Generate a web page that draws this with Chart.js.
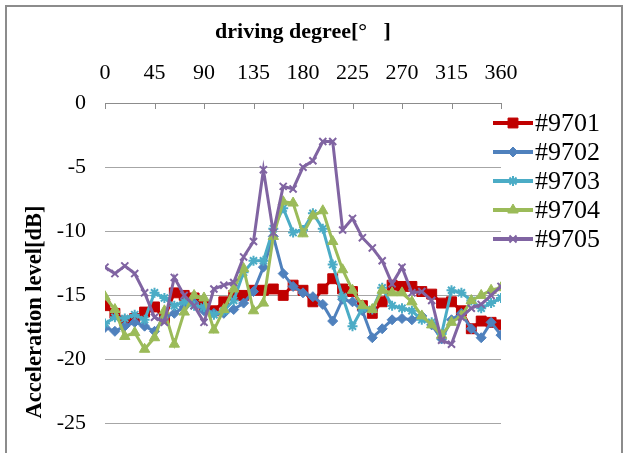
<!DOCTYPE html>
<html>
<head>
<meta charset="utf-8">
<script src="https://cdn.jsdelivr.net/npm/chart.js@4"></script>
<style>
    html, body { margin: 0; padding: 0; background: #fff; overflow: hidden; }
    #frame { position: absolute; left: 5px; top: 5px; width: 614px; height: 600px; border: 2px solid #8c8c8c; }
    #wrap { position: absolute; left: 0; top: 0; width: 625px; height: 520px; }
</style>
</head>
<body>
<div id="frame"></div>
<div id="wrap"><canvas id="accelChart"></canvas></div>
<script>
// driving degree, one sample every 9 degrees
const angles = [0, 9, 18, 27, 36, 45, 54, 63, 72, 81, 90, 99, 108, 117, 126, 135, 144, 153, 162, 171,
    180, 189, 198, 207, 216, 225, 234, 243, 252, 261, 270, 279, 288, 297, 306, 315, 324, 333, 342, 351, 360];

const degreeTicks = [0, 45, 90, 135, 180, 225, 270, 315, 360];
const levelTicks = [0, -5, -10, -15, -20, -25, -30];

const seriesNames = ['#9701', '#9702', '#9703', '#9704', '#9705'];

const level9701 = [-15.8, -16.4, -17.0, -16.8, -16.3, -15.9, -16.8, -14.8, -15.0, -15.2, -15.8, -16.2, -15.5, -15.0,
    -15.0, -14.6, -14.6, -14.5, -15.0, -14.2, -14.6, -15.5, -14.5, -13.7, -14.5, -14.7, -15.8, -16.4, -15.5, -14.2,
    -14.3, -14.3, -14.7, -14.9, -15.6, -15.5, -16.2, -17.6, -17.0, -17.1, -17.3];
const level9702 = [-17.5, -17.8, -17.4, -17.1, -17.4, -17.8, -16.7, -16.4, -15.9, -15.6, -16.2, -16.4, -16.4, -16.1,
    -15.6, -14.7, -12.8, -10.4, -13.3, -14.3, -14.8, -15.1, -15.7, -17.0, -15.3, -15.5, -16.2, -18.3, -17.6, -16.9,
    -16.8, -16.9, -16.6, -17.3, -18.4, -16.9, -16.4, -17.6, -18.3, -17.1, -18.1];
const level9703 = [-17.2, -16.7, -16.8, -16.5, -16.9, -14.8, -15.2, -15.8, -15.5, -15.8, -15.9, -16.5, -16.2, -15.4,
    -13.2, -12.3, -12.3, -9.8, -8.2, -10.1, -9.9, -8.6, -9.8, -12.6, -15.1, -17.4, -16.0, -16.1, -14.4, -15.8,
    -16.0, -16.2, -16.9, -17.1, -18.0, -14.6, -14.8, -15.4, -16.0, -15.6, -15.2];
const level9704 = [-15.1, -16.1, -18.2, -17.9, -19.2, -18.3, -16.2, -18.8, -16.3, -15.0, -15.2, -17.7, -16.1, -14.5,
    -12.9, -16.2, -15.6, -10.4, -7.7, -7.8, -10.2, -8.8, -8.4, -10.8, -13.0, -14.6, -15.8, -16.1, -14.6, -14.8,
    -14.8, -15.5, -16.6, -17.3, -18.1, -17.1, -16.6, -15.4, -15.0, -14.6, -14.4];
const level9705 = [-12.8, -13.3, -12.7, -13.3, -14.8, -16.7, -17.1, -13.6, -15.0, -15.8, -17.1, -14.5, -14.2, -14.0,
    -12.0, -10.8, -5.2, -10.1, -6.5, -6.7, -5.0, -4.5, -3.0, -3.0, -9.9, -9.0, -10.5, -11.3, -12.3, -14.1,
    -12.8, -14.8, -14.7, -15.4, -18.5, -18.8, -16.7, -16.0, -15.7, -15.0, -14.3];

const SERIF = '"Liberation Serif", "Times New Roman", serif';

const styles = [
    { color: '#C00000', point: 'rect', radius: 7, pw: 1 },
    { color: '#4F81BD', point: 'rectRot', radius: 5, pw: 1 },
    { color: '#4BACC6', point: 'star', radius: 5, pw: 2 },
    { color: '#9BBB59', point: 'triangle', radius: 6, pw: 1 },
    { color: '#8064A2', point: 'crossRot', radius: 5, pw: 2 }
];

function makeDataset(idx, values) {
    const st = styles[idx];
    return {
        label: seriesNames[idx],
        data: angles.map((a, i) => ({ x: a, y: values[i] })),
        borderColor: st.color,
        backgroundColor: st.color,
        borderWidth: 3,
        pointStyle: st.point,
        pointRadius: st.radius,
        pointBorderWidth: st.pw,
        pointBackgroundColor: st.color,
        pointBorderColor: st.color,
        tension: 0,
        order: 5 - idx
    };
}

// short tick marks hanging down from the top axis, plus the vertical axis title
const axisExtras = {
    id: 'axisExtras',
    afterDatasetsDraw(chart) {
        const { ctx, chartArea, scales } = chart;
        ctx.save();
        ctx.strokeStyle = '#8c8c8c';
        ctx.lineWidth = 1;
        degreeTicks.forEach(v => {
            const px = Math.round(scales.x.getPixelForValue(v)) + 0.5;
            ctx.beginPath();
            ctx.moveTo(px, chartArea.top);
            ctx.lineTo(px, chartArea.top + 6);
            ctx.stroke();
        });
        ctx.translate(35, chartArea.top + 209);
        ctx.rotate(-Math.PI / 2);
        ctx.fillStyle = '#000';
        ctx.font = 'bold 22.5px ' + SERIF;
        ctx.textAlign = 'center';
        ctx.textBaseline = 'middle';
        ctx.fillText('Acceleration level[dB]', 0, 0);
        ctx.restore();
    }
};

// legend on the right: line sample with marker, then the name
const sideLegend = {
    id: 'sideLegend',
    afterDraw(chart) {
        const { ctx, chartArea } = chart;
        const x0 = chartArea.right - 8;
        chart.data.datasets.forEach((ds, i) => {
            const y = chartArea.top + 20 + i * 29;
            ctx.save();
            ctx.strokeStyle = ds.borderColor;
            ctx.fillStyle = ds.borderColor;
            ctx.lineWidth = 4;
            ctx.beginPath();
            ctx.moveTo(x0, y);
            ctx.lineTo(x0 + 40, y);
            ctx.stroke();
            ctx.lineWidth = ds.pointBorderWidth;
            Chart.helpers.drawPoint(ctx, {
                pointStyle: ds.pointStyle,
                radius: ds.pointRadius,
                borderWidth: ds.pointBorderWidth,
                rotation: 0
            }, x0 + 20, y);
            ctx.fillStyle = '#000';
            ctx.font = '26px ' + SERIF;
            ctx.textBaseline = 'middle';
            ctx.fillText(ds.label, x0 + 42, y + 1);
            ctx.restore();
        });
    }
};

const ctx = document.getElementById('accelChart').getContext('2d');
new Chart(ctx, {
    type: 'line',
    data: {
        datasets: [
            makeDataset(0, level9701),
            makeDataset(1, level9702),
            makeDataset(2, level9703),
            makeDataset(3, level9704),
            makeDataset(4, level9705)
        ]
    },
    options: {
        responsive: true,
        maintainAspectRatio: false,
        animation: false,
        layout: { padding: { top: 5, left: 48, right: 124, bottom: 21 } },
        plugins: {
            legend: { display: false },
            tooltip: { enabled: false }
        },
        scales: {
            x: {
                type: 'linear',
                position: 'top',
                min: 0,
                max: 360,
                afterBuildTicks: scale => { scale.ticks = degreeTicks.map(v => ({ value: v })); },
                afterFit: scale => { scale.height = 98; },
                grid: { drawOnChartArea: false, drawTicks: false },
                border: { display: true, color: '#8c8c8c', width: 1 },
                ticks: {
                    padding: 17,
                    color: '#000',
                    maxRotation: 0,
                    autoSkip: false,
                    font: { family: SERIF, size: 22 }
                },
                title: {
                    display: true,
                    text: 'driving degree[°   ]',
                    color: '#000',
                    padding: { top: 14, bottom: 0 },
                    font: { family: SERIF, size: 22, weight: 'bold' }
                }
            },
            y: {
                min: -30,
                max: 0,
                afterBuildTicks: scale => { scale.ticks = levelTicks.map(v => ({ value: v })); },
                afterFit: scale => { scale.width = 57; },
                grid: { color: '#a6a6a6', lineWidth: 1, drawTicks: false },
                border: { display: false },
                ticks: {
                    padding: 19,
                    color: '#000',
                    font: { family: SERIF, size: 22 }
                }
            }
        }
    },
    plugins: [axisExtras, sideLegend]
});
</script>
</body>
</html>
